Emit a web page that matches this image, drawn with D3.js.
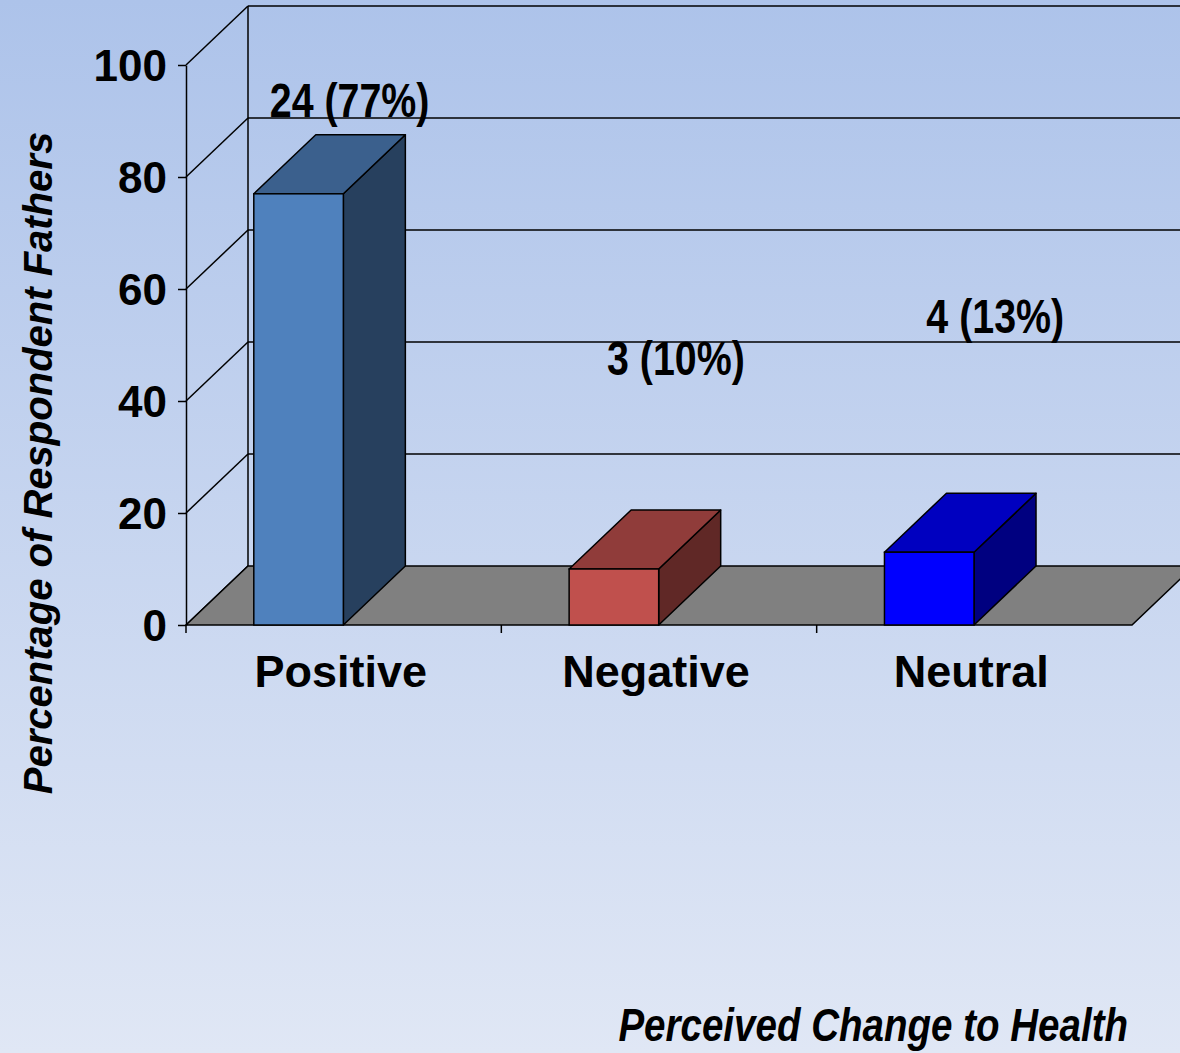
<!DOCTYPE html>
<html>
<head>
<meta charset="utf-8">
<script src="https://cdn.jsdelivr.net/npm/d3@7"></script>
<style>
  body { margin: 0; padding: 0; overflow: hidden; }
  svg { display: block; }
  .axis text { font-family: "Liberation Sans", Arial, sans-serif; font-weight: bold; fill: #000; }
  .axis path, .axis line { stroke: #000; stroke-width: 1.5; }
</style>
</head>
<body>
<svg class="chart"></svg>
<script>
var categories = ["Positive", "Negative", "Neutral"];
var percents = [77, 10, 13];
var counts = [24, 3, 4];
var yTicks = [0, 20, 40, 60, 80, 100];
// where each data label sits, in axis units (hand placed in the original slide)
var labelValues = [90.7, 44.6, 52.1];
var labelShift = [20, 31, 35];

var width = 1180, height = 1053;
var depthX = 62, depthY = -59;

var faceColour = ["#4f81bd", "#c0504d", "#0000ff"];
var topColour = ["#3b608d", "#903c3a", "#0000c0"];
var sideColour = ["#27405e", "#602826", "#000080"];

var xScale = d3.scaleBand()
    .domain(categories)
    .range([186, 1132]);

var yScale = d3.scaleLinear()
    .domain([0, 100])
    .range([625, 65]);

var chart = d3.select(".chart")
    .attr("width", width)
    .attr("height", height);

var grad = chart.append("defs").append("linearGradient")
    .attr("id", "bg")
    .attr("x1", 0).attr("y1", 0).attr("x2", 0).attr("y2", 1);
grad.append("stop").attr("offset", "0%").attr("stop-color", "#adc3ea");
grad.append("stop").attr("offset", "100%").attr("stop-color", "#e0e7f5");

chart.append("rect")
    .attr("width", width)
    .attr("height", height)
    .attr("fill", "url(#bg)");

var x0 = xScale.range()[0], x1 = xScale.range()[1];

// back wall grid lines
chart.append("g").selectAll("line")
    .data(yTicks.slice(1))
  .enter().append("line")
    .attr("x1", x0 + depthX)
    .attr("x2", width + 10)
    .attr("y1", function(d) { return yScale(d) + depthY; })
    .attr("y2", function(d) { return yScale(d) + depthY; })
    .attr("stroke", "#000")
    .attr("stroke-width", 1.5);

// back wall corner
chart.append("line")
    .attr("x1", x0 + depthX).attr("x2", x0 + depthX)
    .attr("y1", yScale(0) + depthY).attr("y2", yScale(100) + depthY)
    .attr("stroke", "#000").attr("stroke-width", 1.5);

// side wall diagonals
chart.append("g").selectAll("line")
    .data(yTicks)
  .enter().append("line")
    .attr("x1", x0)
    .attr("x2", x0 + depthX)
    .attr("y1", function(d) { return yScale(d); })
    .attr("y2", function(d) { return yScale(d) + depthY; })
    .attr("stroke", "#000")
    .attr("stroke-width", 1.5);

// floor
var floorPts = [
  [x0, yScale(0)], [x1, yScale(0)],
  [x1 + depthX, yScale(0) + depthY], [x0 + depthX, yScale(0) + depthY]
];
chart.append("polygon")
    .attr("points", floorPts.map(function(p) { return p.join(","); }).join(" "))
    .attr("fill", "#808080")
    .attr("stroke", "#000")
    .attr("stroke-width", 1.5);

// front value axis
var yAxis = d3.axisLeft(yScale)
    .tickValues(yTicks)
    .tickSize(8)
    .tickSizeOuter(0)
    .tickPadding(11)
    .tickFormat(d3.format("d"));

var yG = chart.append("g")
    .attr("class", "y axis")
    .attr("transform", "translate(" + x0 + ",0)")
    .call(yAxis);
yG.selectAll("text").style("font-size", "44px").attr("dy", "0.36em");

// category boundary ticks
var bounds = categories.map(function(c) { return xScale(c); });
chart.append("g").selectAll("line")
    .data(bounds)
  .enter().append("line")
    .attr("x1", function(d) { return d; })
    .attr("x2", function(d) { return d; })
    .attr("y1", yScale(0))
    .attr("y2", yScale(0) + 8)
    .attr("stroke", "#000")
    .attr("stroke-width", 1.5);

// category labels
chart.append("g").attr("class", "axis").selectAll("text")
    .data(categories)
  .enter().append("text")
    .attr("x", function(d) { return xScale(d) + xScale.bandwidth() / 2 - 3; })
    .attr("y", yScale(0) + 62)
    .attr("text-anchor", "middle")
    .style("font-size", "45px")
    .text(function(d) { return d; });

// 3d bars
var bars = chart.append("g").selectAll(".bar")
    .data(categories)
  .enter().append("g")
    .attr("class", "bar");

function barLeft(c) { return xScale(c) + xScale.bandwidth() * 0.215; }
function barWidth() { return xScale.bandwidth() * 0.284; }
function poly(pts) { return pts.map(function(p) { return p.join(","); }).join(" "); }

bars.append("polygon")
    .attr("points", function(c, i) {
      var l = barLeft(c), r = l + barWidth(), t = yScale(percents[i]), b = yScale(0);
      return poly([[r, b], [r + depthX, b + depthY], [r + depthX, t + depthY], [r, t]]);
    })
    .attr("fill", function(c, i) { return sideColour[i]; })
    .attr("stroke", "#000").attr("stroke-width", 1.5).attr("stroke-linejoin", "round");

bars.append("polygon")
    .attr("points", function(c, i) {
      var l = barLeft(c), r = l + barWidth(), t = yScale(percents[i]);
      return poly([[l, t], [r, t], [r + depthX, t + depthY], [l + depthX, t + depthY]]);
    })
    .attr("fill", function(c, i) { return topColour[i]; })
    .attr("stroke", "#000").attr("stroke-width", 1.5).attr("stroke-linejoin", "round");

bars.append("rect")
    .attr("x", function(c) { return barLeft(c); })
    .attr("y", function(c, i) { return yScale(percents[i]); })
    .attr("width", barWidth())
    .attr("height", function(c, i) { return yScale(0) - yScale(percents[i]); })
    .attr("fill", function(c, i) { return faceColour[i]; })
    .attr("stroke", "#000").attr("stroke-width", 1.5);

// data labels (narrow bold)
chart.append("g").selectAll("text")
    .data(categories)
  .enter().append("text")
    .attr("transform", function(c, i) {
      var cx = barLeft(c) + (barWidth() + depthX) / 2 + labelShift[i];
      return "translate(" + cx + "," + yScale(labelValues[i]) + ") scale(0.82,1)";
    })
    .attr("text-anchor", "middle")
    .style("font-family", "'Liberation Sans', Arial, sans-serif")
    .style("font-weight", "bold")
    .style("font-size", "48px")
    .text(function(c, i) { return counts[i] + " (" + percents[i] + "%)"; });

// axis titles
chart.append("text")
    .attr("transform", "translate(52,463) rotate(-90)")
    .attr("text-anchor", "middle")
    .style("font-family", "'Liberation Sans', Arial, sans-serif")
    .style("font-weight", "bold")
    .style("font-style", "italic")
    .style("font-size", "40px")
    .text("Percentage of Respondent Fathers");

chart.append("text")
    .attr("transform", "translate(1128,1041) scale(0.82,1)")
    .attr("text-anchor", "end")
    .style("font-family", "'Liberation Sans', Arial, sans-serif")
    .style("font-weight", "bold")
    .style("font-style", "italic")
    .style("font-size", "47px")
    .text("Perceived Change to Health");
</script>
</body>
</html>
